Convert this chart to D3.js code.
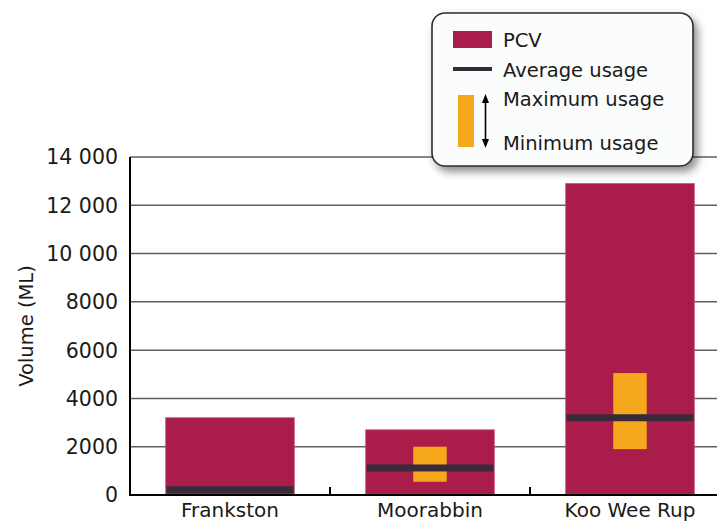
<!DOCTYPE html>
<html>
<head>
<meta charset="utf-8">
<script src="https://cdn.jsdelivr.net/npm/d3@7"></script>
<style>
  html, body { margin: 0; padding: 0; background: #ffffff; }
  svg { display: block; font-family: "DejaVu Sans", sans-serif; }
</style>
</head>
<body>
<script>
// Water volumes by supply system (ML)
const categories = ["Frankston", "Moorabbin", "Koo Wee Rup"];
const pcv        = [3200, 2700, 12900];
const avgUsage   = [220, 1120, 3200];
const maxUsage   = [null, 2000, 5050];
const minUsage   = [null, 550, 1900];
const yTicks      = [0, 2000, 4000, 6000, 8000, 10000, 12000, 14000];
const yTickLabels = ["0", "2000", "4000", "6000", "8000", "10 000", "12 000", "14 000"];
const legendLabels = ["PCV", "Average usage", "Maximum usage", "Minimum usage"];

const W = 717, H = 522;
const colPCV = "#aa1d4b", colAvg = "#382a3a", colRange = "#f6a81d";

const svg = d3.select("body").append("svg").attr("width", W).attr("height", H);

const defs = svg.append("defs");
const shadow = defs.append("filter").attr("id", "legendShadow")
  .attr("x", "-20%").attr("y", "-20%").attr("width", "150%").attr("height", "150%");
shadow.append("feDropShadow").attr("dx", 4).attr("dy", 5).attr("stdDeviation", 4)
  .attr("flood-color", "#000").attr("flood-opacity", 0.45);

const x = d3.scaleBand().domain(categories).range([130, 730])
  .paddingInner(0.357).paddingOuter(0.1785);
const y = d3.scaleLinear().domain([0, 14000]).range([495, 157]);

// horizontal gridlines
svg.append("g").selectAll("line").data(yTicks.filter(d => d > 0)).join("line")
  .attr("x1", 130).attr("x2", W)
  .attr("y1", d => y(d)).attr("y2", d => y(d))
  .attr("stroke", "#5e5e5e").attr("stroke-width", 1.5);

// y tick labels
svg.append("g").selectAll("text").data(yTicks).join("text")
  .attr("x", 118).attr("y", d => y(d)).attr("dy", "0.36em")
  .attr("text-anchor", "end").attr("font-size", 20.5).attr("fill", "#1a1a1a")
  .text((d, i) => yTickLabels[i]);

// y axis title
svg.append("text")
  .attr("transform", `translate(33,${(y(0) + y(14000)) / 2}) rotate(-90)`)
  .attr("text-anchor", "middle").attr("font-size", 19.5).attr("fill", "#1a1a1a")
  .text("Volume (ML)");

// bars
const bw = x.bandwidth();
const g = svg.append("g");
categories.forEach((c, i) => {
  const x0 = x(c);
  g.append("rect").attr("x", x0).attr("y", y(pcv[i]))
    .attr("width", bw).attr("height", y(0) - y(pcv[i]))
    .attr("fill", colPCV).attr("stroke", "#c8537a").attr("stroke-width", 0.8);
  if (maxUsage[i] != null) {
    const rw = bw * 0.26;
    g.append("rect").attr("x", x0 + (bw - rw) / 2).attr("y", y(maxUsage[i]))
      .attr("width", rw).attr("height", y(minUsage[i]) - y(maxUsage[i]))
      .attr("fill", colRange);
  }
  g.append("rect").attr("x", x0 + 1).attr("y", y(avgUsage[i]) - 3.5)
    .attr("width", bw - 2).attr("height", 7).attr("fill", colAvg);
});

// axes lines
svg.append("line").attr("x1", 130).attr("x2", 130).attr("y1", y(14000)).attr("y2", y(0) + 1)
  .attr("stroke", "#000").attr("stroke-width", 2);
svg.append("line").attr("x1", 129).attr("x2", W).attr("y1", y(0)).attr("y2", y(0))
  .attr("stroke", "#000").attr("stroke-width", 2);

// category separators on the x axis
const bounds = d3.range(1, categories.length).map(i => x.range()[0] + x.step() * i);
svg.append("g").selectAll("line").data(bounds).join("line")
  .attr("x1", d => d).attr("x2", d => d).attr("y1", y(0)).attr("y2", y(0) - 8)
  .attr("stroke", "#000").attr("stroke-width", 2);

// category labels
svg.append("g").selectAll("text").data(categories).join("text")
  .attr("x", d => x(d) + bw / 2).attr("y", 516.5)
  .attr("text-anchor", "middle").attr("font-size", 20).attr("fill", "#1a1a1a")
  .text(d => d);

// legend
const lg = svg.append("g");
lg.append("rect").attr("x", 432).attr("y", 13).attr("width", 261).attr("height", 153)
  .attr("rx", 13).attr("fill", "#fbfcfc").attr("stroke", "#2e2e2e").attr("stroke-width", 1.6)
  .attr("filter", "url(#legendShadow)");
lg.append("rect").attr("x", 453).attr("y", 31).attr("width", 39).attr("height", 17).attr("fill", colPCV);
lg.append("rect").attr("x", 453).attr("y", 67).attr("width", 39).attr("height", 4).attr("fill", colAvg);
lg.append("rect").attr("x", 458).attr("y", 95).attr("width", 16).attr("height", 52).attr("fill", colRange);
// double-headed arrow
lg.append("line").attr("x1", 485.5).attr("x2", 485.5).attr("y1", 101).attr("y2", 141)
  .attr("stroke", "#000").attr("stroke-width", 1.6);
lg.append("path").attr("d", "M485.5,94 L482,103 L489,103 Z").attr("fill", "#000");
lg.append("path").attr("d", "M485.5,148 L482,139 L489,139 Z").attr("fill", "#000");
const legY = [47, 77, 106, 150];
lg.selectAll("text.leg").data(legendLabels).join("text").attr("class", "leg")
  .attr("x", 503).attr("y", (d, i) => legY[i])
  .attr("font-size", 19.5).attr("fill", "#1a1a1a")
  .text(d => d);
</script>
</body>
</html>
